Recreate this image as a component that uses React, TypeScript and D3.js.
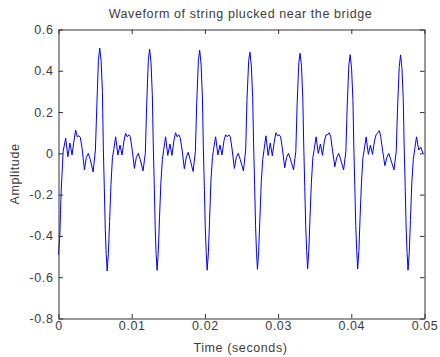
import { useEffect, useRef } from "react";
import * as d3 from "d3";

// sample times in milliseconds (one period per line)
const timeMs = [
    0, 0.18, 0.27, 0.37, 0.55, 0.64, 0.98, 1.28, 1.57, 1.85, 2.11, 2.34, 2.56, 2.78, 2.98, 3.24, 3.54, 3.8, 4.07, 4.34, 4.73, 5.04, 5.22, 5.45,
    5.63, 5.82, 6.0, 6.12, 6.26, 6.39, 6.52, 6.65, 6.82, 6.98, 7.17, 7.37, 7.56, 7.81, 8.11, 8.4, 8.68, 8.94, 9.17, 9.39, 9.61, 9.81, 10.07, 10.37, 10.63, 10.9, 11.17, 11.55, 11.86, 12.04, 12.27,
    12.45, 12.64, 12.82, 12.94, 13.08, 13.21, 13.34, 13.47, 13.64, 13.8, 13.99, 14.19, 14.38, 14.63, 14.93, 15.22, 15.5, 15.76, 15.99, 16.21, 16.43, 16.63, 16.89, 17.19, 17.45, 17.72, 17.99, 18.39, 18.7, 18.88, 19.11,
    19.29, 19.48, 19.66, 19.78, 19.92, 20.05, 20.18, 20.31, 20.48, 20.64, 20.83, 21.03, 21.22, 21.47, 21.77, 22.06, 22.34, 22.6, 22.83, 23.05, 23.27, 23.47, 23.73, 24.03, 24.29, 24.56, 24.83, 25.26, 25.57, 25.75, 25.98,
    26.16, 26.35, 26.53, 26.65, 26.79, 26.92, 27.05, 27.18, 27.35, 27.51, 27.7, 27.9, 28.09, 28.34, 28.64, 28.93, 29.21, 29.47, 29.7, 29.92, 30.14, 30.34, 30.6, 30.9, 31.16, 31.43, 31.7, 32.11, 32.42, 32.6, 32.83,
    33.01, 33.2, 33.38, 33.5, 33.64, 33.77, 33.9, 34.03, 34.2, 34.36, 34.55, 34.75, 34.94, 35.19, 35.49, 35.78, 36.06, 36.32, 36.55, 36.77, 36.99, 37.19, 37.45, 37.75, 38.01, 38.28, 38.55, 38.95, 39.26, 39.44, 39.67,
    39.85, 40.04, 40.22, 40.34, 40.48, 40.61, 40.74, 40.87, 41.04, 41.2, 41.39, 41.59, 41.78, 42.03, 42.33, 42.62, 42.9, 43.16, 43.39, 43.61, 43.83, 44.03, 44.29, 44.59, 44.85, 45.12, 45.39, 45.83, 46.14, 46.32, 46.55,
    46.73, 46.92, 47.1, 47.22, 47.36, 47.49, 47.62, 47.75, 47.92, 48.08, 48.27, 48.47, 48.66, 48.91, 49.21, 49.5, 49.78,
];

const amplitude = [
    -0.49, -0.4, -0.29, -0.18, -0.05, 0.01, 0.074, -0.016, 0.05, -0.008, 0.06, 0.113, 0.08, 0.085, 0.078, 0.02, -0.08, -0.02, 0.0, -0.03, -0.09, 0.016, 0.21, 0.45,
    0.51, 0.45, 0.3, 0.03, -0.17, -0.37, -0.49, -0.57, -0.48, -0.33, -0.15, -0.02, 0.02, 0.08, -0.008, 0.04, -0.008, 0.06, 0.097, 0.08, 0.09, 0.08, 0.016, -0.073, -0.02, 0.0, -0.03, -0.085, 0.0, 0.23, 0.45,
    0.505, 0.44, 0.28, 0.05, -0.15, -0.36, -0.49, -0.567, -0.47, -0.31, -0.14, -0.03, 0.02, 0.08, -0.01, 0.045, -0.01, 0.06, 0.1, 0.08, 0.09, 0.075, 0.016, -0.075, -0.02, 0.005, -0.03, -0.088, 0.01, 0.24, 0.45,
    0.5, 0.43, 0.27, 0.04, -0.16, -0.36, -0.48, -0.566, -0.48, -0.32, -0.13, -0.02, 0.03, 0.08, -0.008, 0.04, -0.008, 0.06, 0.09, 0.08, 0.09, 0.08, 0.016, -0.073, -0.02, 0.0, -0.03, -0.085, 0.016, 0.26, 0.45,
    0.49, 0.42, 0.27, 0.05, -0.15, -0.35, -0.48, -0.562, -0.47, -0.32, -0.14, -0.03, 0.02, 0.085, -0.01, 0.05, -0.012, 0.055, 0.1, 0.085, 0.09, 0.08, 0.02, -0.07, -0.02, 0.0, -0.03, -0.08, 0.01, 0.24, 0.44,
    0.485, 0.42, 0.26, 0.04, -0.16, -0.35, -0.47, -0.56, -0.47, -0.31, -0.14, -0.02, 0.02, 0.08, 0.0, 0.045, -0.01, 0.06, 0.09, 0.09, 0.1, 0.08, 0.01, -0.065, -0.02, 0.0, -0.03, -0.08, 0.01, 0.23, 0.43,
    0.478, 0.41, 0.26, 0.04, -0.16, -0.35, -0.47, -0.56, -0.47, -0.31, -0.14, -0.02, 0.02, 0.08, -0.005, 0.04, -0.005, 0.06, 0.09, 0.1, 0.11, 0.08, 0.01, -0.06, -0.02, 0.0, -0.03, -0.08, 0.01, 0.22, 0.42,
    0.477, 0.41, 0.26, 0.04, -0.16, -0.36, -0.48, -0.566, -0.48, -0.32, -0.14, -0.03, 0.02, 0.08, 0.016, 0.03, 0.0,
];

const xTicks = [0, 0.01, 0.02, 0.03, 0.04, 0.05];
const xTickLabels = ["0", "0.01", "0.02", "0.03", "0.04", "0.05"];
const yTicks = [-0.8, -0.6, -0.4, -0.2, 0, 0.2, 0.4, 0.6];
const yTickLabels = ["-0.8", "-0.6", "-0.4", "-0.2", "0", "0.2", "0.4", "0.6"];

const title = "Waveform of string plucked near the bridge";
const xLabel = "Time (seconds)";
const yLabel = "Amplitude";

const FONT = "'Liberation Sans', Arial, Helvetica, sans-serif";
const INK = "#3c3c3c";

function Waveform({ width = 440, height = 357 }: { width?: number; height?: number }) {
    const ref = useRef<SVGSVGElement | null>(null);

    useEffect(() => {
        if (!ref.current) return;

        const svg = d3.select(ref.current);
        svg.selectAll("*").remove();

        const left = 58.5, right = 424.5, top = 29.5, bottom = 318.5;

        const x = d3.scaleLinear().domain([0, 0.05]).range([left, right]);
        const y = d3.scaleLinear().domain([-0.8, 0.6]).range([bottom, top]);

        svg.append("rect").attr("width", width).attr("height", height).attr("fill", "#fff");

        const line = d3
            .line<number>()
            .x((_, i) => x(timeMs[i] / 1000))
            .y((d) => y(d));

        svg.append("path")
            .datum(amplitude)
            .attr("d", line)
            .attr("fill", "none")
            .attr("stroke", "#0000ff")
            .attr("stroke-width", 1);

        const tick = 4.5;

        const styleAxis = (g: d3.Selection<SVGGElement, unknown, null, undefined>) => {
            g.attr("font-family", FONT).attr("font-size", 12.5);
            g.selectAll(".domain").attr("stroke", "#333");
            g.selectAll(".tick line").attr("stroke", "#333");
            g.selectAll(".tick text").attr("fill", INK).attr("letter-spacing", 0.6);
        };

        svg.append("g")
            .attr("transform", `translate(0,${bottom})`)
            .call(
                d3.axisBottom(x).tickValues(xTicks)
                    .tickFormat((_, i) => xTickLabels[i])
                    .tickSizeInner(-tick).tickSizeOuter(0).tickPadding(3)
            )
            .call(styleAxis);

        svg.append("g")
            .attr("transform", `translate(0,${top})`)
            .call(d3.axisTop(x).tickValues(xTicks).tickFormat(() => "").tickSizeInner(-tick).tickSizeOuter(0))
            .call(styleAxis);

        svg.append("g")
            .attr("transform", `translate(${left},0)`)
            .call(
                d3.axisLeft(y).tickValues(yTicks)
                    .tickFormat((_, i) => yTickLabels[i])
                    .tickSizeInner(-tick).tickSizeOuter(0).tickPadding(5)
            )
            .call(styleAxis);

        svg.append("g")
            .attr("transform", `translate(${right},0)`)
            .call(d3.axisRight(y).tickValues(yTicks).tickFormat(() => "").tickSizeInner(-tick).tickSizeOuter(0))
            .call(styleAxis);

        const cx = (left + right) / 2;
        const cy = (top + bottom) / 2;

        const label = (t: d3.Selection<SVGTextElement, unknown, null, undefined>) =>
            t.attr("text-anchor", "middle")
                .attr("font-family", FONT).attr("font-size", 12.5).attr("letter-spacing", 0.6)
                .attr("fill", INK);

        svg.append("text").attr("x", cx - 1).attr("y", 18).call(label).text(title);
        svg.append("text").attr("x", cx - 1).attr("y", 352).call(label).text(xLabel);
        svg.append("text")
            .attr("transform", `translate(19,${cy}) rotate(-90)`)
            .call(label)
            .text(yLabel);
    }, [width, height]);

    return (
        <svg
            ref={ref}
            width={width}
            height={height}
            style={{ position: "absolute", left: 0, top: 0, display: "block" }}
        />
    );
}

export default function App() {
    return (
        <div>
            <Waveform />
        </div>
    );
}
